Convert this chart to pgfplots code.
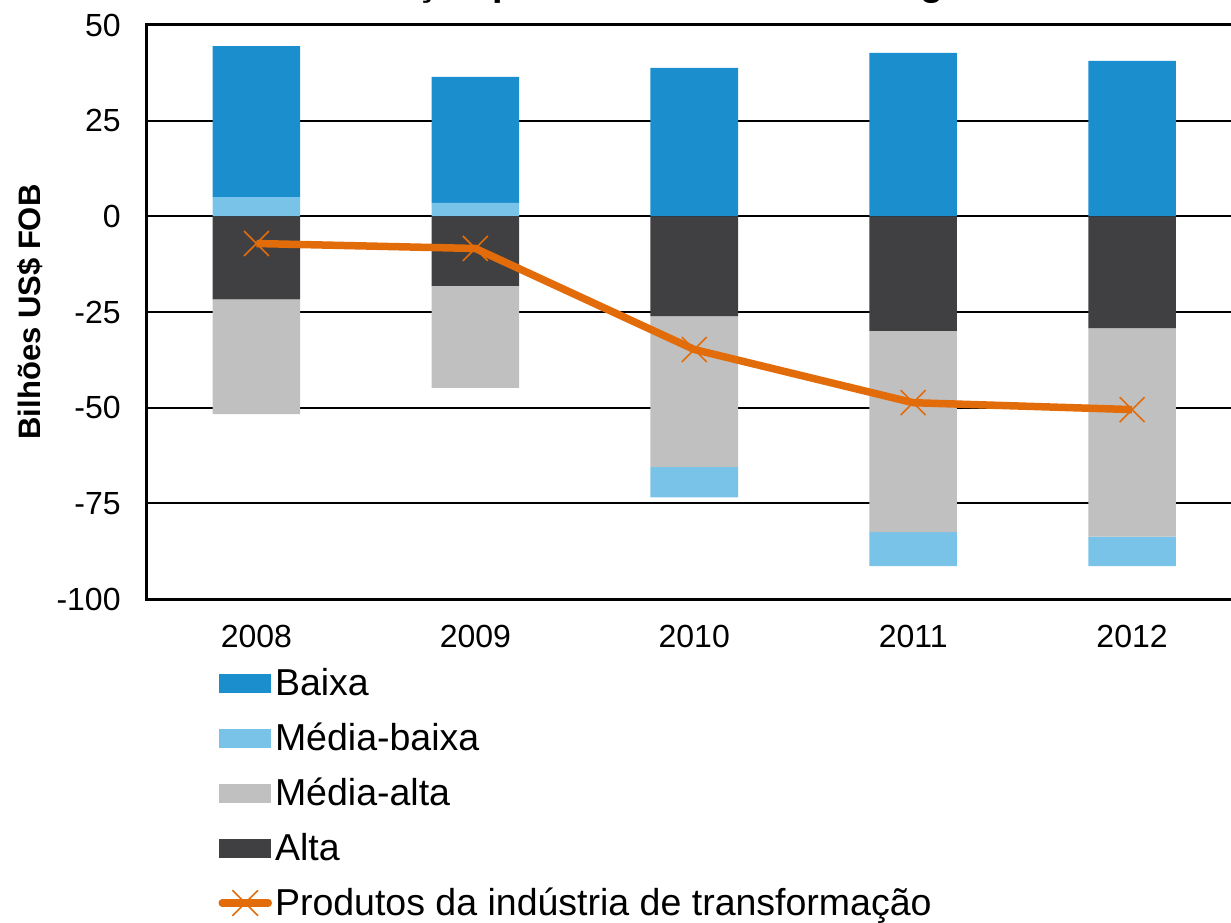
\documentclass[border=0pt]{standalone}
\usepackage{pgfplots}
\usepackage{pgfplotstable}
\pgfplotsset{compat=1.18}
\usepackage{fontspec}
\setmainfont{Liberation Sans}
\definecolor{baixa}{RGB}{27,143,206}
\definecolor{mbaixa}{RGB}{122,195,232}
\definecolor{malta}{RGB}{192,192,192}
\definecolor{alta}{RGB}{64,64,66}
\definecolor{linha}{RGB}{227,108,10}

\pgfplotstableread{
x baixa mbpos mbneg malta alta total
0 39.5 5.0 0 -30.0 -21.7 -7.1
1 32.9 3.55 0 -26.6 -18.2 -8.4
2 38.8 0 -8.0 -39.4 -26.05 -34.8
3 42.7 0 -8.9 -52.6 -29.9 -48.7
4 40.6 0 -7.7 -54.5 -29.2 -50.5
}\data

\pgfplotsset{
  base/.style={scale only axis, width=547.25pt, height=287pt,
    xmin=-0.5, xmax=4.5, ymin=-100, ymax=50, bar width=0.4,
    at={(0,0)}, anchor=south west},
  hid/.style={base, hide axis},
  barleg/.style={legend image code/.code={\fill[##1, draw=none] (0pt,-4.75pt) rectangle (26pt,4.75pt);}},
  lineleg/.style={legend image code/.code={\draw[##1, line cap=round, mark repeat=2, mark phase=2]
    plot coordinates {(1.5pt,0pt) (13pt,0pt) (24.5pt,0pt)};}},
}

\begin{document}
\begin{tikzpicture}
% main axis: frame, grid, labels, positive stacked bars
\begin{axis}[base, ybar stacked,
  ymajorgrids, grid style={black, line width=1pt},
  axis line style={line width=1.5pt},
  ytick={-100,-75,-50,-25,0,25,50},
  xtick={0,1,2,3,4}, xticklabels={2008,2009,2010,2011,2012},
  major tick length=0pt,
  /pgf/number format/assume math mode=true,
  tick label style={font=\fontsize{16}{19}\selectfont, inner sep=0pt},
  yticklabel style={xshift=-13pt},
  xticklabel style={yshift=-13pt},
  ylabel={Bilhões US\$ FOB},
  ylabel style={at={(axis description cs:0,0.5)}, anchor=center, yshift=58.5pt,
    font=\bfseries\fontsize{15.5}{18}\selectfont},
]
\addplot[fill=mbaixa, draw=none] table[x=x, y=mbpos]{\data};
\addplot[fill=baixa, draw=none] table[x=x, y=baixa]{\data};
\end{axis}
% negative stacked bars
\begin{axis}[hid, ybar stacked]
\addplot[fill=alta, draw=none] table[x=x, y=alta]{\data};
\addplot[fill=malta, draw=none] table[x=x, y=malta]{\data};
\addplot[fill=mbaixa, draw=none] table[x=x, y=mbneg]{\data};
\end{axis}
% line and legend
\begin{axis}[hid,
  legend style={at={(0,0)}, anchor=north west, xshift=35.75pt, yshift=-34pt,
    draw=none, fill=none, inner sep=0pt, outer sep=0pt,
    font=\fontsize{18.75}{22}\selectfont,
    row sep=11.5pt,
    nodes={inner sep=0pt, text height=14pt, text depth=2pt},
    /tikz/every odd column/.append style={column sep=1.5pt}},
  legend cell align=left,
]
\addlegendimage{barleg, fill=baixa, draw=none}
\addlegendentry{Baixa}
\addlegendimage{barleg, fill=mbaixa, draw=none}
\addlegendentry{Média-baixa}
\addlegendimage{barleg, fill=malta, draw=none}
\addlegendentry{Média-alta}
\addlegendimage{barleg, fill=alta, draw=none}
\addlegendentry{Alta}
\addplot[linha, line width=3.75pt, line join=round, mark=x, mark size=8.8pt,
  mark options={line width=0.8pt, solid}, lineleg]
  table[x=x, y=total]{\data};
\addlegendentry{Produtos da indústria de transformação}
\end{axis}
\node[anchor=base east, font=\bfseries\fontsize{19}{23}\selectfont] at (428.5pt,301.5pt)
  {Saldo comercial da indústria de transformação por intensidade tecnológica};
\pgfresetboundingbox
\path[use as bounding box] (-73.5pt,-161.5pt) rectangle (542pt,299.5pt);
\end{tikzpicture}
\end{document}
